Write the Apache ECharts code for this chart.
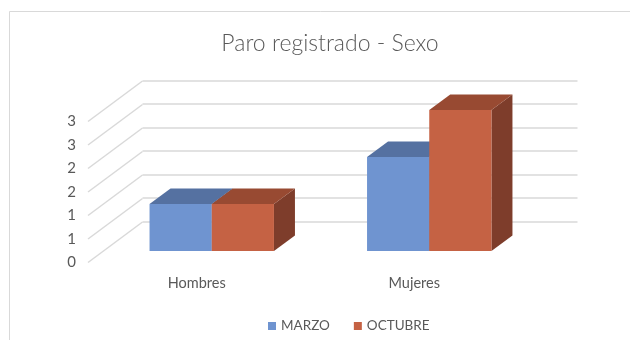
<!DOCTYPE html>
<html>
<head>
<meta charset="utf-8">
<script src="https://cdn.jsdelivr.net/npm/echarts@6/dist/echarts.min.js"></script>
<style>
  html, body { margin: 0; padding: 0; background: #fff; }
  #chart { width: 630px; height: 340px; }
</style>
</head>
<body>
<div id="chart"></div>
<script>
// Paro registrado por sexo, marzo frente a octubre
const categories = ['Hombres', 'Mujeres'];
const seriesNames = ['MARZO', 'OCTUBRE'];
const marzo = [1, 2];
const octubre = [1, 3];
const gridSteps = [0, 0.5, 1, 1.5, 2, 2.5, 3];

const FONT = 'Lato, "Open Sans", sans-serif';
const TEXT = '#595959';
const LINE = '#D9D9D9';

// faces of each column: front, top, side
const palette = [
  { front: '#6F94D0', top: '#5571A1', side: '#4A6590' },
  { front: '#C56244', top: '#984A32', side: '#7E3D2B' }
];

// depth of the floor (front edge to back wall) and of each column, in px
const FLOOR_DX = 54.5, FLOOR_DY = -40.5;
const COL_DX = 21, COL_DY = -15.5;
const BAR_SHARE = 0.286; // width of one column as a share of the category band

const chart = echarts.init(document.getElementById('chart'));

function columnRenderer(k) {
  return function (params, api) {
    const cat = api.value(0);
    const base = api.coord([cat, 0]);
    const head = api.coord([cat, api.value(1)]);
    const band = api.size([1, 0])[0];
    const w = band * BAR_SHARE;
    const x0 = base[0] - w + k * w;
    const x1 = x0 + w;
    const yt = head[1], yb = base[1];
    const c = palette[k];
    return {
      type: 'group',
      children: [
        { type: 'polygon', shape: { points: [[x1, yt], [x1 + COL_DX, yt + COL_DY], [x1 + COL_DX, yb + COL_DY], [x1, yb]] },
          style: { fill: c.side } },
        { type: 'polygon', shape: { points: [[x0, yt], [x1, yt], [x1 + COL_DX, yt + COL_DY], [x0 + COL_DX, yt + COL_DY]] },
          style: { fill: c.top } },
        { type: 'rect', shape: { x: x0, y: yt, width: w, height: yb - yt },
          style: { fill: c.front } }
      ]
    };
  };
}

// slanted lines of the left wall, from the front edge to the back wall
function wallRenderer(params, api) {
  const p = api.coord([0, api.value(0)]);
  const x = params.coordSys.x;
  return {
    type: 'line',
    shape: { x1: x, y1: p[1], x2: x + FLOOR_DX, y2: p[1] + FLOOR_DY },
    style: { stroke: LINE, lineWidth: 1.5 }
  };
}

const valueAxisBase = { type: 'value', min: 0, max: 3, interval: 0.5 };

chart.setOption({
  animation: false,
  backgroundColor: '#fff',
  graphic: [{
    type: 'rect', silent: true,
    shape: { x: 9.5, y: 11.5, width: 700, height: 400 },
    style: { fill: 'none', stroke: '#D9D9D9', lineWidth: 1 }
  }],
  title: {
    text: 'Paro registrado - Sexo',
    left: 325, top: 27, textAlign: 'center',
    textStyle: { fontFamily: FONT, fontWeight: 300, fontSize: 23, color: TEXT }
  },
  legend: {
    data: seriesNames,
    left: 263, top: 314,
    icon: 'rect', itemWidth: 8, itemHeight: 8, itemGap: 24,
    textStyle: { fontFamily: FONT, fontSize: 13.5, color: TEXT }
  },
  grid: [
    // front edge of the floor: value and category labels
    { left: 88, width: 435, top: 121.5, height: 141 },
    // back wall
    { left: 142.5, width: 435, top: 80.5, height: 141 },
    // front faces of the columns
    { left: 103, width: 435, top: 110, height: 141 }
  ],
  xAxis: [
    { gridIndex: 0, type: 'category', data: categories,
      axisLine: { show: false }, axisTick: { show: false },
      axisLabel: { margin: 13, fontFamily: FONT, fontSize: 14.5, color: TEXT } },
    { gridIndex: 1, type: 'category', data: categories, show: false },
    { gridIndex: 2, type: 'category', data: categories, show: false }
  ],
  yAxis: [
    Object.assign({ gridIndex: 0,
      axisLine: { show: false }, axisTick: { show: false }, splitLine: { show: false },
      axisLabel: { margin: 12, fontFamily: FONT, fontSize: 15, color: TEXT,
        formatter: v => String(Math.round(v)) } }, valueAxisBase),
    Object.assign({ gridIndex: 1,
      axisLine: { show: false }, axisTick: { show: false }, axisLabel: { show: false },
      splitLine: { show: true, lineStyle: { color: LINE, width: 1.5 } } }, valueAxisBase),
    Object.assign({ gridIndex: 2, show: false, splitLine: { show: false } }, valueAxisBase)
  ],
  series: [
    {
      type: 'custom', xAxisIndex: 0, yAxisIndex: 0, silent: true,
      renderItem: wallRenderer,
      data: gridSteps.map(v => [v]),
      encode: { y: 0 }, z: 1
    },
    {
      name: seriesNames[0], type: 'custom', xAxisIndex: 2, yAxisIndex: 2,
      itemStyle: { color: palette[0].front },
      renderItem: columnRenderer(0),
      data: marzo.map((v, i) => [i, v]),
      encode: { x: 0, y: 1 }, z: 3
    },
    {
      name: seriesNames[1], type: 'custom', xAxisIndex: 2, yAxisIndex: 2,
      itemStyle: { color: palette[1].front },
      renderItem: columnRenderer(1),
      data: octubre.map((v, i) => [i, v]),
      encode: { x: 0, y: 1 }, z: 4
    }
  ]
});
</script>
</body>
</html>
